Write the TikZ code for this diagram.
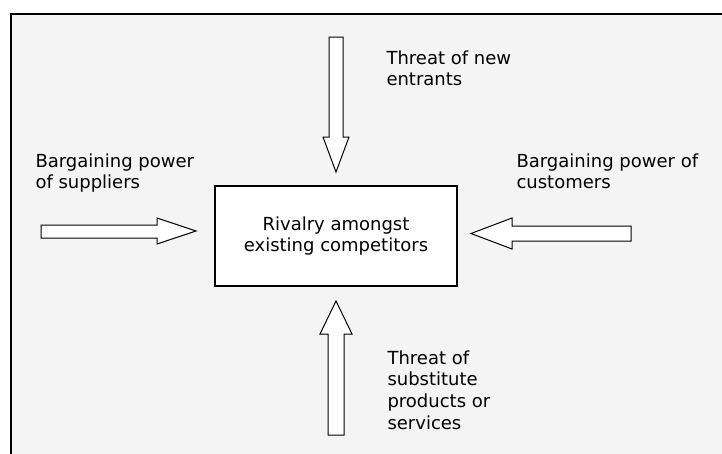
\documentclass[tikz,border=0pt]{standalone}
\usepackage{fontspec}
\setmainfont{DejaVu Sans}
\usepackage{tikz}
\usetikzlibrary{positioning}

\tikzset{
  force/.style={anchor=north west, align=left, inner sep=0pt, font=\fontsize{18}{21.7}\selectfont},
  blockarrow/.style={draw=black, fill=white, line width=1pt, line join=miter},
}

\begin{document}
\begin{tikzpicture}[x=1pt, y=-1pt, line width=1pt]
        \useasboundingbox (0,0) rectangle (722,453);
        % Frame
        \draw[fill=gray!9, line width=1.6pt] (11,14) rectangle (740,470);

        % Centre box
        \node[draw, fill=white, line width=1.3pt, minimum width=242pt, minimum height=100pt,
              align=center, font=\fontsize{18}{21.7}\selectfont] (rivalry) at (336,236)
              {Rivalry amongst\\existing competitors};

        % Labels
        \node[force] (entrants) at (386,50) {Threat of new\\entrants};
        \node[force] (suppliers) at (35,153) {Bargaining power\\of suppliers};
        \node[force] (customers) at (516,153) {Bargaining power of\\customers};
        \node[force] (substitutes) at (387,350) {Threat of\\substitute\\products or\\services};

        % Arrows
        \draw[blockarrow] (329,37) -- (343,37) -- (343,137) -- (349,137) -- (336,172) -- (323,137) -- (329,137) -- cycle;
        \draw[blockarrow] (328,435) -- (344,435) -- (344,334) -- (352,334) -- (336,301) -- (320,334) -- (328,334) -- cycle;
        \draw[blockarrow] (41,225) -- (157,225) -- (157,218) -- (196,231) -- (157,244) -- (157,238) -- (41,238) -- cycle;
        \draw[blockarrow] (631,226) -- (512,226) -- (512,218) -- (471,233.5) -- (512,249) -- (512,241) -- (631,241) -- cycle;
\end{tikzpicture}
\end{document}
